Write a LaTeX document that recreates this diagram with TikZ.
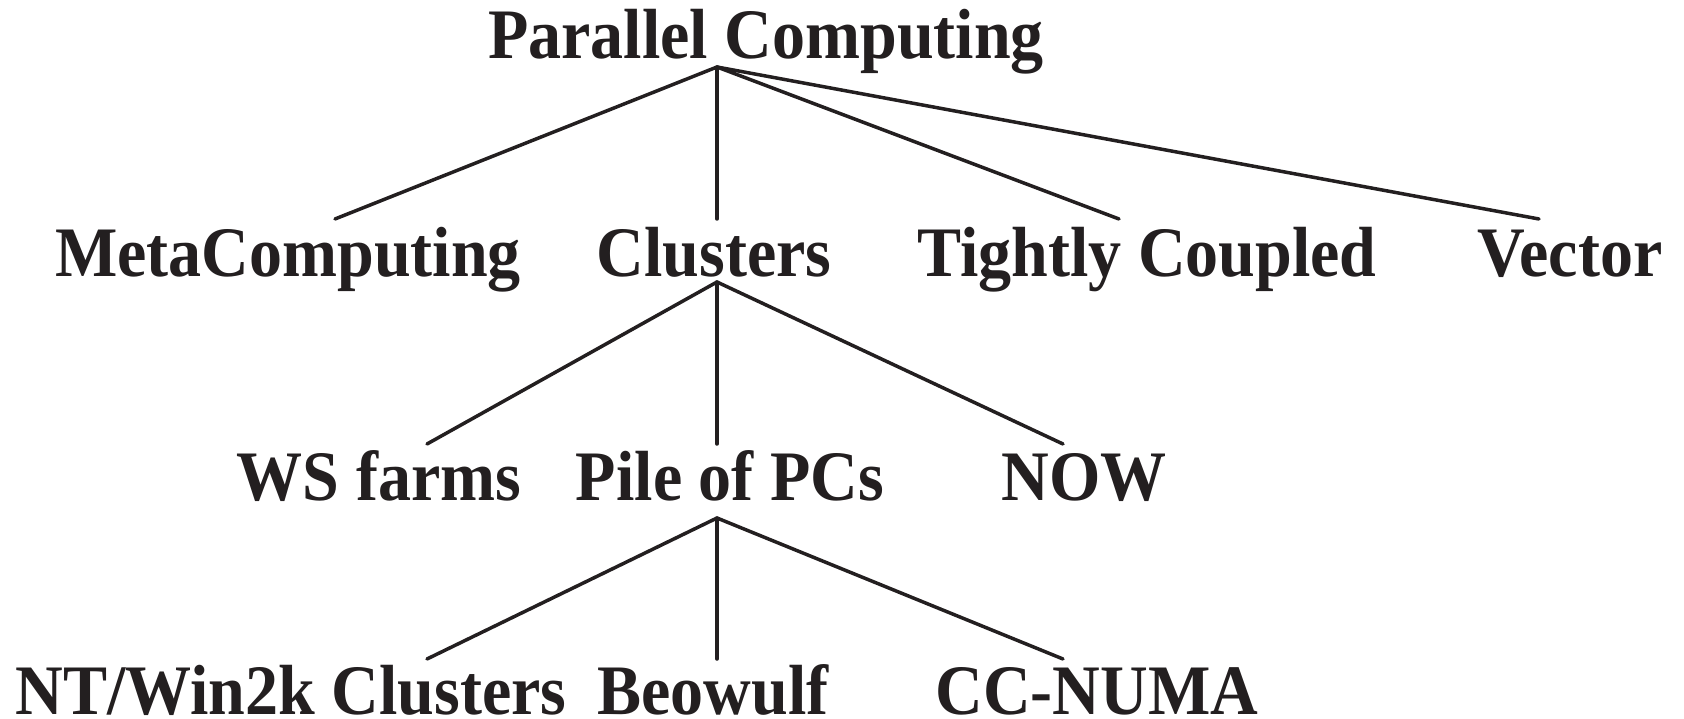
\documentclass[tikz,border=0pt]{standalone}
\usepackage{fontspec}
\setmainfont{Liberation Serif}[FakeStretch=0.93]
\definecolor{ink}{HTML}{231F20}
\begin{document}
\begin{tikzpicture}[x=1pt,y=-1pt,
  lbl/.style={anchor=base, inner sep=0pt, text=ink, font=\fontsize{71}{82}\selectfont\bfseries},
  edge/.style={draw=ink, line width=3.5pt, line cap=round}]
\useasboundingbox (0,0) rectangle (1684,719);
% nodes
\node[lbl] (pc)   at (766,59)  {Parallel Computing};
\node[lbl] (meta) at (288,277) {MetaComputing};
\node[lbl] (cl)   at (714,277) {Clusters};
\node[lbl] (tc)   at (1147,277) {Tightly Coupled};
\node[lbl] (vec)  at (1570,277) {Vector};
\node[lbl] (ws)   at (379,500) {WS farms};
\node[lbl] (pile) at (730,500) {Pile of PCs};
\node[lbl] (now)  at (1084,500) {NOW};
\node[lbl] (nt)   at (291,714) {NT/Win2k Clusters};
\node[lbl] (beo)  at (713,714) {Beowulf};
\node[lbl] (cc)   at (1097,714) {CC-NUMA};
% connector points
\coordinate (pcA)  at (717,67);
\coordinate (metaT) at (335,219);
\coordinate (clT)  at (717,219);
\coordinate (tcT)  at (1119,219);
\coordinate (vecT) at (1539,219);
\coordinate (clA)  at (717,282);
\coordinate (wsT)  at (427,444);
\coordinate (pileT) at (717,444);
\coordinate (nowT) at (1063,444);
\coordinate (pileA) at (717,518);
\coordinate (ntT)  at (427,659);
\coordinate (beoT) at (717,659);
\coordinate (ccT)  at (1063,659);
% connectors
\draw[edge] (pcA) -- (metaT);
\draw[edge] (pcA) -- (clT);
\draw[edge] (pcA) -- (tcT);
\draw[edge] (pcA) -- (vecT);
\draw[edge] (clA) -- (wsT);
\draw[edge] (clA) -- (pileT);
\draw[edge] (clA) -- (nowT);
\draw[edge] (pileA) -- (ntT);
\draw[edge] (pileA) -- (beoT);
\draw[edge] (pileA) -- (ccT);
\end{tikzpicture}
\end{document}
